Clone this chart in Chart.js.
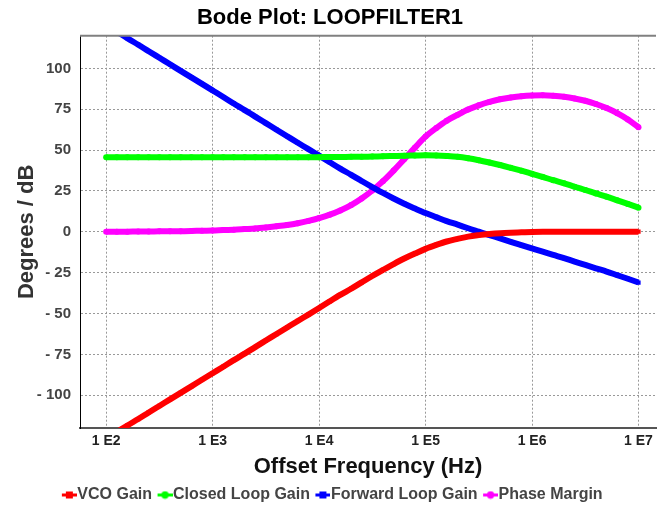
<!DOCTYPE html>
<html>
<head>
<meta charset="utf-8">
<script src="https://cdn.jsdelivr.net/npm/chart.js@4"></script>
<style>
  html, body { margin: 0; padding: 0; background: #fff; }
  #wrap { width: 660px; height: 508px; }
</style>
</head>
<body>
<div id="wrap"><canvas id="chart" width="660" height="508"></canvas></div>
<script>
// offset frequency points (Hz), 10 per decade
const freqs = [
    1e2, 1.26e2, 1.58e2, 2e2, 2.51e2, 3.16e2, 3.98e2, 5.01e2, 6.31e2, 7.94e2,
    1e3, 1.26e3, 1.58e3, 2e3, 2.51e3, 3.16e3, 3.98e3, 5.01e3, 6.31e3, 7.94e3,
    1e4, 1.26e4, 1.58e4, 2e4, 2.51e4, 3.16e4, 3.98e4, 5.01e4, 6.31e4, 7.94e4,
    1e5, 1.26e5, 1.58e5, 2e5, 2.51e5, 3.16e5, 3.98e5, 5.01e5, 6.31e5, 7.94e5,
    1e6, 1.26e6, 1.58e6, 2e6, 2.51e6, 3.16e6, 3.98e6, 5.01e6, 6.31e6, 7.94e6,
    1e7
];

const vcoGain = [
    -126.5, -122.5, -118.5, -114.5, -110.5, -106.5, -102.5, -98.5, -94.5, -90.5,
    -86.5, -82.5, -78.5, -74.5, -70.5, -66.5, -62.5, -58.5, -54.5, -50.6,
    -46.6, -42.5, -38.6, -34.8, -30.9, -27.0, -23.3, -19.7, -16.3, -13.3,
    -10.4, -8.0, -5.9, -4.3, -2.9, -2.0, -1.3, -0.8, -0.5, -0.3,
    -0.1, 0, 0, 0.1, 0.1, 0.1, 0.1, 0.1, 0.1, 0.1,
    0.1
];

const closedLoopGain = [
    45.7, 45.7, 45.7, 45.7, 45.7, 45.7, 45.7, 45.7, 45.7, 45.7,
    45.7, 45.7, 45.7, 45.7, 45.7, 45.7, 45.7, 45.7, 45.7, 45.7,
    45.7, 45.8, 45.8, 45.9, 45.9, 46.1, 46.2, 46.4, 46.6, 46.7,
    46.8, 46.7, 46.4, 45.9, 45.0, 43.8, 42.4, 40.9, 39.2, 37.4,
    35.5, 33.6, 31.6, 29.7, 27.6, 25.6, 23.5, 21.5, 19.3, 17.1,
    14.8
];

const forwardLoopGain = [
    126.5, 122.5, 118.5, 114.5, 110.5, 106.5, 102.5, 98.5, 94.5, 90.5,
    86.5, 82.5, 78.5, 74.5, 70.5, 66.5, 62.5, 58.5, 54.5, 50.6,
    46.6, 42.6, 38.7, 34.9, 31.1, 27.4, 23.8, 20.4, 17.2, 14.3,
    11.5, 9.0, 6.6, 4.4, 2.2, 0.1, -2.0, -4.0, -6.1, -8.1,
    -10.1, -12.1, -14.1, -16.1, -18.2, -20.2, -22.3, -24.3, -26.5, -28.7,
    -31.0
];

const phaseMargin = [
    0.1, 0.1, 0.1, 0.2, 0.2, 0.3, 0.3, 0.4, 0.5, 0.7,
    0.8, 1.1, 1.3, 1.7, 2.1, 2.7, 3.4, 4.2, 5.3, 6.7,
    8.4, 10.5, 13.1, 16.4, 20.4, 25.3, 31.0, 37.5, 44.5, 51.5,
    58.3, 63.5, 68.0, 71.6, 74.8, 77.4, 79.5, 81.1, 82.2, 83.0,
    83.4, 83.5, 83.2, 82.6, 81.6, 80.2, 78.2, 75.7, 72.6, 68.7,
    64.0
];

const xTicks = [1e2, 1e3, 1e4, 1e5, 1e6, 1e7];
const xTickLabels = ['1 E2', '1 E3', '1 E4', '1 E5', '1 E6', '1 E7'];
const yTicks = [-100, -75, -50, -25, 0, 25, 50, 75, 100];
const yTickLabels = ['- 100', '- 75', '- 50', '- 25', '0', '25', '50', '75', '100'];

const seriesNames = ['VCO Gain', 'Closed Loop Gain', 'Forward Loop Gain', 'Phase Margin'];
const seriesColors = ['#ff0000', '#00ff00', '#0000ff', '#ff00ff'];
const seriesMarkers = ['rect', 'circle', 'rect', 'circle'];

const FONT = "'Liberation Sans', Arial, sans-serif";

const toPoints = (vals) => vals.map((v, i) => ({ x: freqs[i], y: v }));

// small "line + marker" icon for the legend, marker sits on the right half
const legendIcon = (color, marker) => {
    const c = document.createElement('canvas');
    c.width = 27;
    c.height = 9;
    const g = c.getContext('2d');
    g.fillStyle = color;
    g.fillRect(12, 3, 15, 3);
    if (marker === 'rect') {
        g.fillRect(16, 1, 7, 7);
    } else {
        g.beginPath();
        g.arc(19.5, 4.5, 3.7, 0, Math.PI * 2);
        g.fill();
    }
    return c;
};

// top frame line of the plot area
const topFrame = {
    id: 'topFrame',
    afterDraw(chart) {
        const { ctx, chartArea } = chart;
        ctx.save();
        ctx.strokeStyle = '#808080';
        ctx.lineWidth = 2;
        ctx.beginPath();
        ctx.moveTo(chartArea.left, chartArea.top);
        ctx.lineTo(chartArea.right, chartArea.top);
        ctx.stroke();
        ctx.restore();
    }
};

document.addEventListener('DOMContentLoaded', () => {
    const ctx = document.getElementById('chart').getContext('2d');
    const allSeries = [vcoGain, closedLoopGain, forwardLoopGain, phaseMargin];
    const icons = seriesColors.map((c, i) => legendIcon(c, seriesMarkers[i]));

    new Chart(ctx, {
        type: 'line',
        data: {
            datasets: allSeries.map((vals, i) => ({
                label: seriesNames[i],
                data: toPoints(vals),
                borderColor: seriesColors[i],
                backgroundColor: seriesColors[i],
                borderWidth: 6,
                pointStyle: seriesMarkers[i],
                pointRadius: 3,
                pointBorderWidth: 0,
                cubicInterpolationMode: 'monotone',
                clip: 0
            }))
        },
        options: {
            responsive: false,
            animation: false,
            layout: { padding: 0 },
            plugins: {
                title: {
                    display: true,
                    text: 'Bode Plot: LOOPFILTER1',
                    color: '#000',
                    font: { family: FONT, size: 22, weight: 'bold' },
                    padding: { top: 5, bottom: 4.3 }
                },
                legend: {
                    position: 'bottom',
                    align: 'center',
                    maxHeight: 22,
                    labels: {
                        usePointStyle: true,
                        pointStyleWidth: 12,
                        padding: 1,
                        color: '#444',
                        font: { family: FONT, size: 16, weight: 'bold' },
                        generateLabels: (chart) =>
                            Chart.defaults.plugins.legend.labels.generateLabels(chart)
                                .map((item, i) => ({ ...item, pointStyle: icons[i] }))
                    }
                },
                tooltip: { enabled: false }
            },
            scales: {
                x: {
                    type: 'logarithmic',
                    min: 56.8,
                    max: 1.46e7,
                    afterFit: (scale) => { scale.height = 58; },
                    afterBuildTicks: (scale) => {
                        scale.ticks = xTicks.map(v => ({ value: v }));
                    },
                    ticks: {
                        autoSkip: false,
                        maxRotation: 0,
                        padding: 5,
                        color: '#222',
                        font: { family: FONT, size: 14, weight: 'bold' },
                        callback: (v, i) => xTickLabels[i]
                    },
                    grid: {
                        drawTicks: false,
                        color: '#999',
                        lineWidth: 1
                    },
                    border: { display: true, color: '#555', width: 2, dash: [2, 2] },
                    title: {
                        display: true,
                        text: 'Offset Frequency (Hz)',
                        color: '#111',
                        font: { family: FONT, size: 22, weight: 'bold' },
                        padding: { top: 0, bottom: 6 }
                    }
                },
                y: {
                    min: -120,
                    max: 120,
                    afterFit: (scale) => { scale.width = 80; },
                    afterBuildTicks: (scale) => {
                        scale.ticks = yTicks.map(v => ({ value: v }));
                    },
                    ticks: {
                        padding: 9,
                        color: '#444',
                        font: { family: FONT, size: 15, weight: 'bold' },
                        callback: (v, i) => yTickLabels[i]
                    },
                    grid: {
                        drawTicks: false,
                        color: '#999',
                        lineWidth: 1
                    },
                    border: { display: true, color: '#000', width: 1, dash: [2, 2] },
                    title: {
                        display: true,
                        text: 'Degrees / dB',
                        color: '#333',
                        font: { family: FONT, size: 22, weight: 'bold' },
                        padding: { top: 14, bottom: 0 }
                    }
                }
            }
        },
        plugins: [topFrame]
    });
});
</script>
</body>
</html>
